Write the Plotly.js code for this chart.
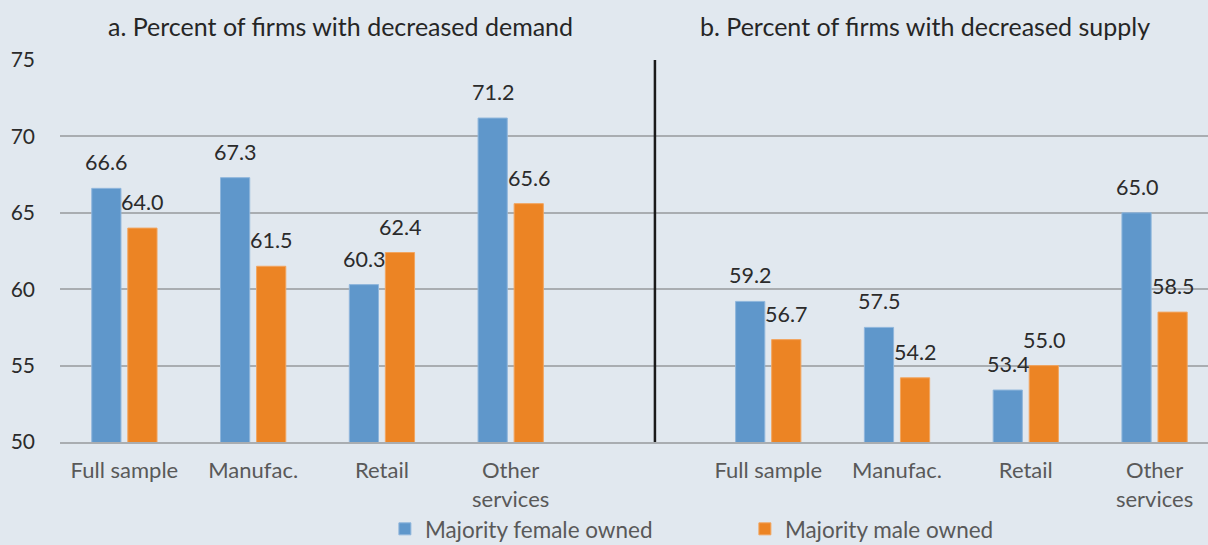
<!DOCTYPE html>
<html>
<head>
<meta charset="utf-8">
<script src="https://cdn.plot.ly/plotly-3.0.1.min.js"></script>
<style>html,body{margin:0;padding:0;background:#e1e8ef;}</style>
</head>
<body>
<div id="chart" style="width:1208px;height:545px;"></div>
<script>
var categories = ["Full sample", "Manufac.", "Retail", "Other<br>services"];
var demandFemale = [66.6, 67.3, 60.3, 71.2];
var demandMale = [64.0, 61.5, 62.4, 65.6];
var supplyFemale = [59.2, 57.5, 53.4, 65.0];
var supplyMale = [56.7, 54.2, 55.0, 58.5];
var seriesNames = ["Majority female owned", "Majority male owned"];
var panelTitles = ["a. Percent of firms with decreased demand", "b. Percent of firms with decreased supply"];

var FONT = "Lato, 'Open Sans', sans-serif";
var BLUE = "#5f97cb", ORANGE = "#ec8424";

// x slots: left panel 0..3, right panel 5..8
var xLeft = categories.map(function(c, i){ return i; });
var xRight = categories.map(function(c, i){ return i + categories.length + 1; });
var xs = xLeft.concat(xRight);
var female = demandFemale.concat(supplyFemale);
var male = demandMale.concat(supplyMale);

var traces = [
  {type: "bar", name: seriesNames[0], x: xs, y: female, marker: {color: BLUE, line: {color: "#8fb6dc", width: 1}}, hoverinfo: "y"},
  {type: "bar", name: seriesNames[1], x: xs, y: male, marker: {color: ORANGE, line: {color: "#f2a55f", width: 1}}, hoverinfo: "y"}
];

var annotations = [];
var offset = 0.14;
xs.forEach(function(x, i){
  annotations.push({x: x - offset, y: female[i], xref: "x", yref: "y", text: female[i].toFixed(1), showarrow: false, yanchor: "middle", yshift: 26, font: {family: FONT, size: 21.5, color: "#2b2b2b"}});
  annotations.push({x: x + offset, y: male[i], xref: "x", yref: "y", text: male[i].toFixed(1), showarrow: false, yanchor: "middle", yshift: 26, font: {family: FONT, size: 21.5, color: "#2b2b2b"}});
});
annotations.push({x: 0.244, y: 1, xref: "paper", yref: "paper", xanchor: "center", yanchor: "middle", yshift: 34, text: panelTitles[0], showarrow: false, font: {family: FONT, size: 25, color: "#262626"}});
annotations.push({x: 0.7535, y: 1, xref: "paper", yref: "paper", xanchor: "center", yanchor: "middle", yshift: 34, text: panelTitles[1], showarrow: false, font: {family: FONT, size: 25, color: "#262626"}});

var layout = {
  width: 1208, height: 545,
  margin: {l: 60, r: 0, t: 60, b: 103, autoexpand: false},
  paper_bgcolor: "#e1e8ef", plot_bgcolor: "#e1e8ef",
  barmode: "group", bargap: 0.44, bargroupgap: 0.19,
  font: {family: FONT, size: 22, color: "#595959"},
  xaxis: {
    range: [-0.5, 8.415], tickvals: xs, ticktext: categories.concat(categories),
    showgrid: false, zeroline: false, showline: true, linecolor: "#a9adb1", linewidth: 2,
    ticks: "", ticklabelstandoff: 8, tickfont: {family: FONT, size: 22, color: "#595959"}
  },
  yaxis: {
    range: [50, 75], dtick: 5, tick0: 50, showgrid: true, gridcolor: "#a9adb1", gridwidth: 2,
    zeroline: false, ticks: "", ticklabelstandoff: 24, tickfont: {family: FONT, size: 21, color: "#2b2b2b"}
  },
  shapes: [{type: "line", xref: "x", yref: "paper", x0: 4.12, x1: 4.12, y0: 0, y1: 1, line: {color: "#1a1a1a", width: 2.5}}],
  annotations: annotations,
  legend: {orientation: "h", x: 0.283, xanchor: "left", y: -0.172, yanchor: "top", entrywidth: 315, font: {family: FONT, size: 22.5, color: "#595959"}, bgcolor: "rgba(0,0,0,0)"},
  showlegend: true
};

Plotly.newPlot("chart", traces, layout, {displayModeBar: false, staticPlot: true});
</script>
</body>
</html>
